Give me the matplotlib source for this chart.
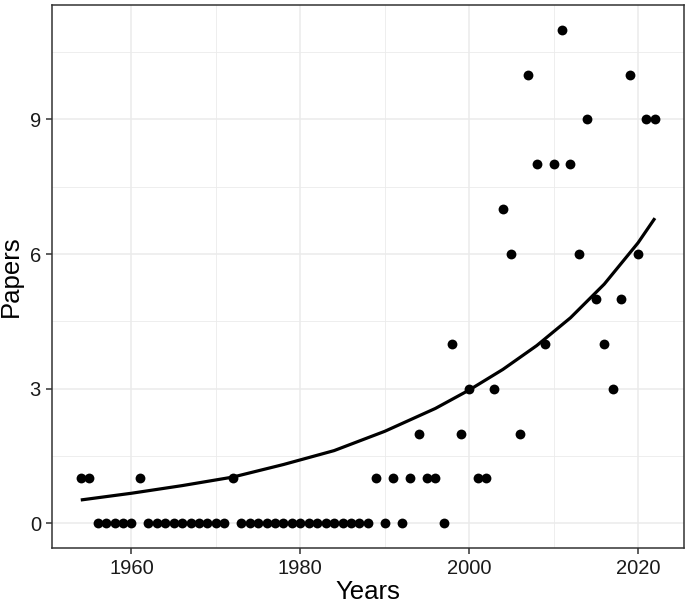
import numpy as np
import matplotlib
matplotlib.use("Agg")
import matplotlib.pyplot as plt
from matplotlib.ticker import MultipleLocator

plt.rcParams["font.family"] = ["Liberation Sans", "DejaVu Sans"]

years = list(range(1954, 2023))
papers = [1, 1, 0, 0, 0, 0, 0, 1,            # 1954-1961
          0, 0, 0, 0, 0, 0, 0, 0, 0, 0,      # 1962-1971
          1,                                 # 1972
          0, 0, 0, 0, 0, 0, 0, 0, 0, 0, 0, 0, 0, 0, 0, 0,  # 1973-1988
          1, 0, 1, 0, 1, 2, 1, 1, 0, 4, 2,   # 1989-1999
          3, 1, 1, 3, 7, 6, 2, 10, 8, 4,     # 2000-2009
          8, 11, 8, 6, 9, 5, 4, 3, 5, 10,    # 2010-2019
          6, 9, 9]                           # 2020-2022

# trend curve, values
trend_years = [1954, 1960, 1966, 1972, 1978, 1984, 1990, 1996,
               2000, 2004, 2008, 2012, 2016, 2020, 2022]
trend_vals = [0.52, 0.67, 0.84, 1.03, 1.31, 1.62, 2.05, 2.56,
              2.97, 3.43, 3.96, 4.58, 5.33, 6.25, 6.80]

fig = plt.figure(figsize=(6.85, 6.02), dpi=100)
ax = fig.add_axes([0.076, 0.0897, 0.922, 0.902])

ax.scatter(years, papers, s=50, color="black", zorder=3, linewidths=0)
ax.plot(trend_years, trend_vals, color="black", lw=2.3, zorder=4,
        solid_capstyle="butt", solid_joinstyle="round")

ax.set_xlim(1950.6, 2025.4)
ax.set_ylim(-0.55, 11.55)
ax.xaxis.set_major_locator(MultipleLocator(20))
ax.xaxis.set_minor_locator(MultipleLocator(10))
ax.yaxis.set_major_locator(MultipleLocator(3))
ax.yaxis.set_minor_locator(MultipleLocator(1.5))

ax.grid(which="major", color="#EBEBEB", lw=1.1)
ax.grid(which="minor", color="#EBEBEB", lw=0.6)
ax.set_axisbelow(True)
for sp in ax.spines.values():
    sp.set_color("#333333")
    sp.set_linewidth(1.1)

ax.tick_params(which="major", length=4, width=1.1, color="#333333",
               labelsize=14.5, labelcolor="#1a1a1a", pad=4)
ax.tick_params(which="minor", length=0)

ax.set_xlabel("Years", fontsize=18.5, labelpad=1)
ax.set_ylabel("Papers", fontsize=18.5, labelpad=5)

fig.savefig("out.png", dpi=100)
